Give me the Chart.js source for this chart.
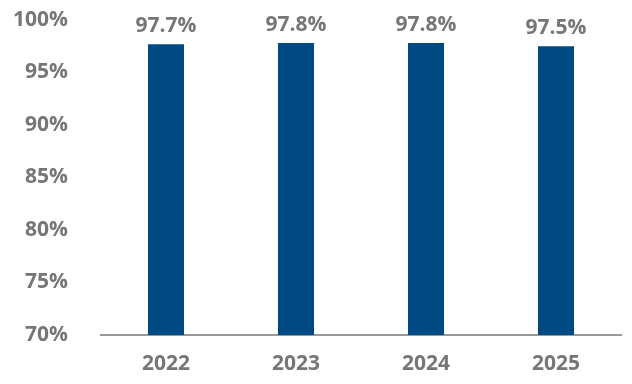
<!DOCTYPE html>
<html>
<head>
<meta charset="utf-8">
<script src="https://cdn.jsdelivr.net/npm/chart.js@4"></script>
<style>
  html, body { margin: 0; padding: 0; background: #fff; }
  #wrap { width: 632px; height: 384px; }
</style>
</head>
<body>
<div id="wrap"><canvas id="rateChart" width="632" height="384"></canvas></div>
<script>
const years = ['2022', '2023', '2024', '2025'];
const rates = [97.7, 97.8, 97.8, 97.5];
const yTicks = [70, 75, 80, 85, 90, 95, 100];

const textGray = '#767676';
const barBlue = '#004a84';
const labelFont = { family: 'Open Sans', size: 21, weight: 'bold' };

// value labels above each bar
const barLabels = {
    id: 'barLabels',
    afterDatasetsDraw(chart) {
        const ctx = chart.ctx;
        const meta = chart.getDatasetMeta(0);
        ctx.save();
        ctx.fillStyle = textGray;
        ctx.font = 'bold 21px "Open Sans"';
        ctx.textAlign = 'center';
        ctx.textBaseline = 'alphabetic';
        meta.data.forEach((bar, i) => {
            ctx.fillText(rates[i].toFixed(1) + '%', bar.x, bar.y - 12);
        });
        ctx.restore();
    }
};

const rateCtx = document.getElementById('rateChart').getContext('2d');
new Chart(rateCtx, {
    type: 'bar',
    data: {
        labels: years,
        datasets: [{
            data: rates,
            backgroundColor: barBlue,
            categoryPercentage: 1,
            barPercentage: 0.277
        }]
    },
    options: {
        responsive: false,
        animation: false,
        layout: { padding: { top: 20, right: 11, left: 0, bottom: 0 } },
        plugins: {
            legend: { display: false },
            tooltip: { enabled: false }
        },
        scales: {
            y: {
                min: 70,
                max: 100,
                afterFit(scale) {
                    scale.width = 101;
                    scale.paddingTop = 0;
                    scale.paddingBottom = 0;
                },
                afterBuildTicks(scale) { scale.ticks = yTicks.map(v => ({ value: v })); },
                grid: { display: false, drawTicks: false },
                border: { display: false },
                ticks: {
                    padding: 33,
                    color: textGray,
                    font: labelFont,
                    callback: v => v + '%'
                }
            },
            x: {
                afterFit(scale) { scale.height = 49; },
                grid: { display: false, drawTicks: false },
                border: { display: true, color: '#9a9a9a', width: 2 },
                ticks: {
                    padding: 16,
                    color: textGray,
                    font: labelFont
                }
            }
        }
    },
    plugins: [barLabels]
});
</script>
</body>
</html>
